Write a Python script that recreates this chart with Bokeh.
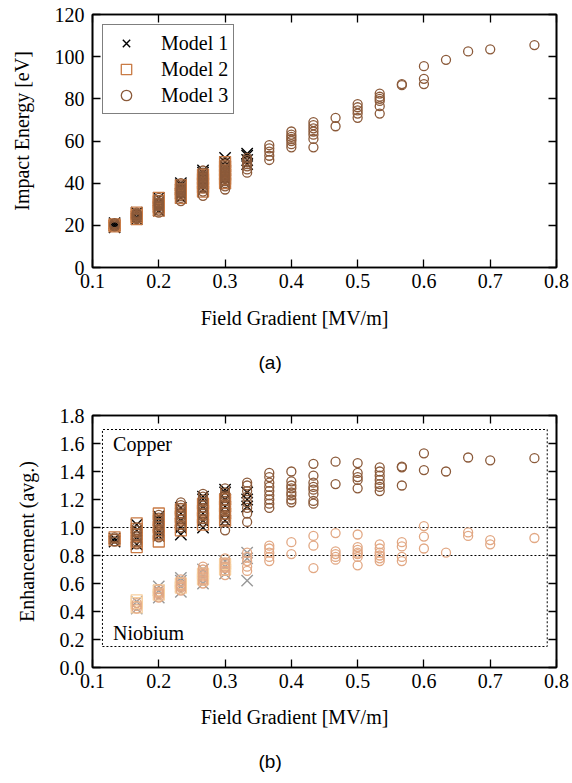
from bokeh.plotting import figure
from bokeh.layouts import column
from bokeh.models import (LinearAxis, FixedTicker, PrintfTickFormatter, Label,
                          Legend, LegendItem, Range1d, Title)
from bokeh.embed import file_html
from bokeh.resources import INLINE

# ---------------- data ----------------
gradients = [0.1333, 0.1667, 0.2, 0.2333, 0.2667, 0.3, 0.3333, 0.3667, 0.4, 0.4333,
             0.4667, 0.5, 0.5333, 0.5667, 0.6, 0.6333, 0.6667, 0.7, 0.7667]

# (a) impact energy [eV], one list per gradient column
energy_m1 = [[19, 20, 21], [23, 24, 25.5, 26], [27, 29, 31, 33], [33, 35, 37, 39, 40],
             [37, 39, 41, 43, 45, 46], [40, 42, 44, 46, 48, 50, 52], [49, 51, 53, 54]]
energy_m2 = [[19.5, 20, 20.5], [23, 24, 25, 26], [27, 28.5, 30, 31.5, 33], [33, 35, 37, 39],
             [36, 38, 40, 42, 44], [40, 42, 44, 46, 48, 50]]
energy_m3 = [[19.5, 20, 20.5, 21], [23, 23.5, 24, 24.5, 25, 25.5, 26],
             [26, 27, 28, 29, 29.5, 30, 30.5, 31, 32, 33],
             [31.5, 33, 34, 35, 35.5, 36, 36.5, 37, 37.5, 38, 39, 40],
             [34, 36, 37.5, 38.5, 39.5, 40, 40.5, 41, 41.5, 42, 42.5, 43, 43.5, 44, 45, 46],
             [37, 38.5, 40, 41, 42, 42.5, 43, 43.5, 44, 44.5, 45, 45.5, 46, 47, 48, 49, 50],
             [45, 46.5, 48, 49, 50, 51, 52],
             [51, 53, 55, 56.5, 58], [57, 58.5, 60, 61, 62, 63, 64.5],
             [57, 61, 63, 64.5, 66, 67.5, 69], [67, 71], [71, 73, 74.5, 76, 77.5],
             [73, 76.5, 79, 80, 81, 82.5], [86.5, 87], [87, 89.5, 95.5], [98.5],
             [102.5], [103.5], [105.5]]

# (b) enhancement (avg.), copper
cu_m1 = [[0.90, 0.92], [0.88, 0.93, 0.98, 1.02], [0.94, 0.98, 1.02, 1.06, 1.08],
         [0.95, 1.0, 1.05, 1.1, 1.14], [1.0, 1.05, 1.1, 1.15, 1.2, 1.22],
         [1.05, 1.1, 1.15, 1.2, 1.25, 1.27], [1.15, 1.2, 1.25]]
cu_m2 = [[0.91, 0.93], [0.86, 0.9, 0.95, 0.99, 1.03], [0.9, 0.95, 1.0, 1.05, 1.1],
         [0.98, 1.03, 1.08, 1.13], [1.02, 1.07, 1.12, 1.17], [1.05, 1.1, 1.15, 1.2]]
cu_m3 = [[0.90, 0.92, 0.93], [0.88, 0.9, 0.92, 0.94, 0.96, 0.98, 1.0],
         [0.93, 0.95, 0.97, 0.99, 1.01, 1.03, 1.05, 1.07, 1.09],
         [1.0, 1.02, 1.04, 1.06, 1.08, 1.1, 1.12, 1.14, 1.16, 1.18],
         [1.04, 1.06, 1.08, 1.1, 1.12, 1.14, 1.16, 1.18, 1.2, 1.22, 1.24],
         [0.98, 1.05, 1.07, 1.09, 1.11, 1.13, 1.15, 1.17, 1.19, 1.21, 1.23, 1.25, 1.28],
         [1.04, 1.1, 1.14, 1.18, 1.22, 1.26, 1.30, 1.32],
         [1.14, 1.17, 1.2, 1.23, 1.26, 1.29, 1.32, 1.36, 1.39],
         [1.18, 1.2, 1.23, 1.25, 1.28, 1.3, 1.33, 1.4],
         [1.17, 1.19, 1.24, 1.27, 1.29, 1.32, 1.37, 1.455], [1.31, 1.47],
         [1.28, 1.34, 1.36, 1.39, 1.46], [1.26, 1.29, 1.31, 1.34, 1.37, 1.40, 1.43],
         [1.30, 1.43, 1.435], [1.41, 1.53], [1.40], [1.50], [1.48], [1.495]]

# (b) enhancement (avg.), niobium (starts at the second gradient)
nb_m1 = [[0.42, 0.47], [0.5, 0.55, 0.58], [0.54, 0.58, 0.62, 0.64], [0.6, 0.65, 0.7],
         [0.67, 0.72, 0.76], [0.62, 0.78, 0.82]]
nb_m2 = [[0.43, 0.46, 0.48], [0.52, 0.55], [0.57, 0.6], [0.63, 0.67], [0.7, 0.74]]
nb_m3 = [[0.42, 0.44, 0.46], [0.5, 0.52, 0.53, 0.54, 0.56], [0.55, 0.57, 0.58, 0.59, 0.61, 0.63],
         [0.6, 0.62, 0.63, 0.65, 0.67, 0.68, 0.7, 0.72], [0.66, 0.69, 0.71, 0.72, 0.74, 0.75, 0.78],
         [0.69, 0.72, 0.76, 0.79, 0.82], [0.76, 0.79, 0.82, 0.85, 0.87], [0.81, 0.895],
         [0.71, 0.87, 0.94], [0.77, 0.79, 0.81, 0.83, 0.96],
         [0.73, 0.79, 0.81, 0.82, 0.84, 0.86, 0.95], [0.76, 0.78, 0.8, 0.82, 0.85, 0.88],
         [0.76, 0.79, 0.865, 0.895], [0.85, 0.935, 1.01], [0.82], [0.94, 0.965],
         [0.88, 0.91], [0.925]]

x_ticks = [0.1, 0.2, 0.3, 0.4, 0.5, 0.6, 0.7, 0.8]
energy_ticks = [0, 20, 40, 60, 80, 100, 120]
enh_ticks = [0.0, 0.2, 0.4, 0.6, 0.8, 1.0, 1.2, 1.4, 1.6, 1.8]

# material regions (b)
region_x = [0.115, 0.786]
region_y = [0.15, 1.70]
split_y = [0.8, 1.0]


def flatten(cols, xs):
    fx, fy = [], []
    for g, vals in zip(xs, cols):
        for v in vals:
            fx.append(g)
            fy.append(v)
    return fx, fy


SERIF = "Liberation Serif"
SANS = "Liberation Sans"
FS = "20px"
NB = "\u00a0"


def make_fig(y_end, y_ticks, y_fmt, height, top_border, frame_h, bottom_border,
             xlabel, ylabel, caption, xlab_standoff, cap_standoff):
    p = figure(output_backend="svg", toolbar_location=None,
               frame_width=464, frame_height=frame_h, height=height, width=572,
               min_border_left=92, min_border_right=16,
               min_border_top=top_border, min_border_bottom=bottom_border,
               x_range=Range1d(0.1, 0.8), y_range=Range1d(0, y_end),
               x_axis_location=None, y_axis_location=None)
    p.background_fill_color = "white"
    p.border_fill_color = "white"
    p.outline_line_color = "black"
    p.outline_line_width = 1.6
    p.xgrid.visible = False
    p.ygrid.visible = False
    for side, tick, fmt in (("below", x_ticks, "%.1f"), ("left", y_ticks, y_fmt),
                            ("above", x_ticks, "%.1f"), ("right", y_ticks, y_fmt)):
        ax = LinearAxis(ticker=FixedTicker(ticks=tick),
                        formatter=PrintfTickFormatter(format=fmt))
        ax.major_tick_in = 8
        ax.major_tick_out = 0
        ax.minor_tick_in = 0
        ax.minor_tick_out = 0
        ax.axis_line_width = 1.6
        ax.major_tick_line_width = 1.3
        ax.major_label_text_font = SERIF
        ax.major_label_text_color = "black"
        ax.major_label_text_font_size = FS
        ax.axis_label_text_font = SERIF
        ax.axis_label_text_font_size = FS
        ax.axis_label_text_font_style = "normal"
        ax.axis_label_text_color = "black"
        if side == "below":
            ax.major_label_standoff = 6
            ax.axis_label = xlabel
            ax.axis_label_standoff = xlab_standoff
        elif side == "left":
            ax.major_label_standoff = 8
            ax.axis_label = ylabel
            ax.axis_label_standoff = 19
        else:
            ax.major_label_overrides = {t: "" for t in tick}
            ax.major_label_standoff = 0
        p.add_layout(ax, side)
    cap = Title(text=caption, align="left", offset=166, standoff=cap_standoff,
                text_font=SANS, text_font_size="19px", text_font_style="normal",
                text_color="black")
    p.add_layout(cap, "below")
    return p


# ---------------- figure (a) ----------------
pa = make_fig(120, energy_ticks, "%d", 392, 14, 253, 125,
              "Field Gradient [MV/m]" + NB * 12, NB * 4 + "Impact Energy [eV]", "(a)",
              16, 36)
x1, y1 = flatten(energy_m1, gradients)
x2, y2 = flatten(energy_m2, gradients)
x3, y3 = flatten(energy_m3, gradients)
r1 = pa.scatter(x1, y1, marker="x", size=16, line_color="black", line_width=1.4)
r2 = pa.scatter(x2, y2, marker="square", size=11, line_color="#c97b45", fill_color=None,
                line_width=1.3)
r3 = pa.scatter(x3, y3, marker="circle", size=9, line_color="#8b5a3a", fill_color=None,
                line_width=1.3)

legend = Legend(items=[LegendItem(label="Model 1", renderers=[r1]),
                       LegendItem(label="Model 2", renderers=[r2]),
                       LegendItem(label="Model 3", renderers=[r3])],
                location="top_left")
legend.margin = 10
legend.padding = 5
legend.spacing = 0
legend.glyph_width = 36
legend.glyph_height = 26
legend.label_height = 26
legend.label_standoff = 17
legend.label_text_font = SERIF
legend.label_text_font_size = FS
legend.label_text_color = "black"
legend.border_line_color = "black"
legend.border_line_width = 1.5
legend.background_fill_alpha = 1.0
pa.add_layout(legend)

# ---------------- figure (b) ----------------
pb = make_fig(1.8, enh_ticks, "%.1f", 391, 23, 252, 116,
              "Field Gradient [MV/m]" + NB * 12, "Enhancement (avg.)", "(b)",
              15, 37)

# region outlines
pb.line([region_x[0], region_x[1], region_x[1], region_x[0], region_x[0]],
        [region_y[0], region_y[0], region_y[1], region_y[1], region_y[0]],
        line_color="black", line_dash="2 2", line_width=1)
for yv in split_y:
    pb.line(region_x, [yv, yv], line_color="black", line_dash="2 2", line_width=1)

nb_grad = gradients[1:]
for cols, xs, col in ((cu_m1, gradients, "black"), (nb_m1, nb_grad, "#999999")):
    fx, fy = flatten(cols, xs)
    pb.scatter(fx, fy, marker="x", size=16, line_color=col, line_width=1.4)
for cols, xs, col in ((cu_m2, gradients, "#c97b45"), (nb_m2, nb_grad, "#f7cf9f")):
    fx, fy = flatten(cols, xs)
    pb.scatter(fx, fy, marker="square", size=11, line_color=col, fill_color=None,
               line_width=1.3)
for cols, xs, col in ((cu_m3, gradients, "#8b5a3a"), (nb_m3, nb_grad, "#e2a884")):
    fx, fy = flatten(cols, xs)
    pb.scatter(fx, fy, marker="circle", size=9, line_color=col, fill_color=None,
               line_width=1.3)

pb.add_layout(Label(x=0.131, y=1.6, text="Copper", text_font=SERIF, text_font_size=FS,
                    text_color="black", text_align="left", text_baseline="middle"))
pb.add_layout(Label(x=0.131, y=0.25, text="Niobium", text_font=SERIF, text_font_size=FS,
                    text_color="black", text_align="left", text_baseline="middle"))

layout = column(pa, pb, spacing=0)
open("out.html", "w").write(file_html(layout, INLINE))
